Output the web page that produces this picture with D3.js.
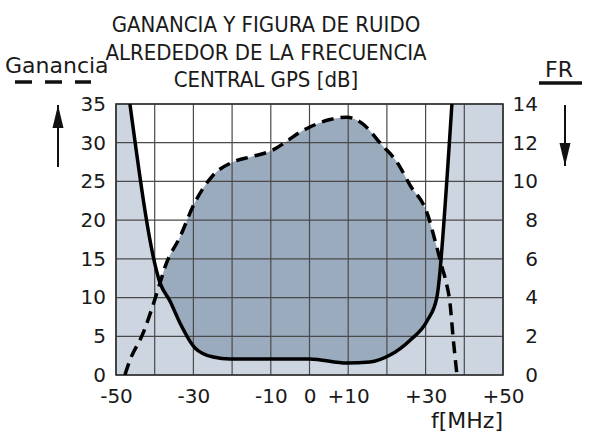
<!DOCTYPE html>
<html>
<head>
<meta charset="UTF-8">
<title>Ganancia y figura de ruido</title>
<script src="https://d3js.org/d3.v7.min.js"></script>
<style>
  body { margin: 0; background: #fff; }
  text { font-family: "DejaVu Sans", sans-serif; fill: #1a1a1a; }
  .title { font-family: "DejaVu Sans Condensed", "DejaVu Sans", sans-serif; }
</style>
</head>
<body>
<script>
var w = 600, h = 439;
var margin = {top: 104, right: 97, bottom: 64, left: 116};

// ganancia (dB, eje izquierdo)
var gainFreq = [-47.7, -46.4, -43, -40, -38, -37.3, -33.5, -29.6, -24.9, -19.8, -15, -9.7, -5, -3, 0, 5.3, 9.7, 13.6, 18.7, 22.6, 26, 30.4, 32.9, 34.2, 35.3, 36.3, 37.1, 38.1];
var gainVals = [0, 1.9, 5.4, 9.7, 12.9, 14, 17.8, 22.3, 25.8, 27.5, 28.2, 29, 30.5, 31.2, 32, 33, 33.3, 32.5, 29.7, 27.5, 24.5, 20.9, 16.5, 14, 12, 9.3, 4.9, 0];

// figura de ruido (dB, eje derecho)
var nfFreq = [-46.4, -38.6, -36, -33.5, -29.6, -24.9, -20.5, -9.7, 0, 9.7, 15.6, 20.8, 26, 30.4, 32.9, 33.7, 34.2, 36.8];
var nfVals = [14, 4.75, 3.8, 2.7, 1.4, 0.93, 0.83, 0.83, 0.83, 0.62, 0.67, 1.03, 1.8, 2.8, 4.0, 5.3, 6.5, 14];

var xTicks = [-50, -30, -10, 0, 10, 30, 50];
var xGrid = d3.range(-50, 51, 10);
var gainTicks = d3.range(0, 36, 5);
var nfTicks = d3.range(0, 15, 2);
var titleLines = ["GANANCIA Y FIGURA DE RUIDO", "ALREDEDOR DE LA FRECUENCIA", "CENTRAL GPS [dB]"];

var x = d3.scaleLinear().domain([-50, 50]).range([margin.left, w - margin.right]);
var yL = d3.scaleLinear().domain([0, 35]).range([h - margin.bottom, margin.top]);
var yR = d3.scaleLinear().domain([0, 14]).range([h - margin.bottom, margin.top]);

var svg = d3.select("body").append("svg").attr("width", w).attr("height", h);

var gain = gainFreq.map(function(f, i){ return [f, gainVals[i]]; });
var nf = nfFreq.map(function(f, i){ return [f, nfVals[i]]; });

var pw = x(50) - x(-50), ph = yL(0) - yL(35);

var defs = svg.append("defs");
defs.append("clipPath").attr("id", "plot")
    .append("rect").attr("x", x(-50)).attr("y", yL(35)).attr("width", pw).attr("height", ph);

// zona sobre la curva de ruido
var aboveNf = d3.area()
    .x(function(d){ return x(d[0]); })
    .y0(yR(14))
    .y1(function(d){ return yR(d[1]); })
    .curve(d3.curveMonotoneX);
defs.append("clipPath").attr("id", "abovenf")
    .append("path").attr("d", aboveNf(nf));

svg.append("rect")
    .attr("x", x(-50)).attr("y", yL(35)).attr("width", pw).attr("height", ph)
    .attr("fill", "#cdd6e0");

var inner = svg.append("g").attr("clip-path", "url(#abovenf)");
inner.append("rect")
    .attr("x", x(-50)).attr("y", yL(35)).attr("width", pw).attr("height", ph)
    .attr("fill", "#fff");
inner.append("path")
    .attr("d", d3.area()
        .x(function(d){ return x(d[0]); })
        .y0(yL(0))
        .y1(function(d){ return yL(d[1]); })
        .curve(d3.curveMonotoneX)(gain))
    .attr("fill", "#99abbd");

// rejilla
svg.append("g").selectAll("line").data(xGrid).enter().append("line")
    .attr("x1", function(d){ return x(d); }).attr("x2", function(d){ return x(d); })
    .attr("y1", yL(0)).attr("y2", yL(35))
    .attr("stroke", "#4a4a4a").attr("stroke-width", 1.2);
svg.append("g").selectAll("line").data(gainTicks).enter().append("line")
    .attr("y1", function(d){ return yL(d); }).attr("y2", function(d){ return yL(d); })
    .attr("x1", x(-50)).attr("x2", x(50))
    .attr("stroke", "#4a4a4a").attr("stroke-width", 1.2);
svg.append("rect")
    .attr("x", x(-50)).attr("y", yL(35)).attr("width", pw).attr("height", ph)
    .attr("fill", "none").attr("stroke", "#333").attr("stroke-width", 1.6);

var curves = svg.append("g").attr("clip-path", "url(#plot)");
curves.append("path")
    .attr("d", d3.line().x(function(d){ return x(d[0]); }).y(function(d){ return yL(d[1]); }).curve(d3.curveMonotoneX)(gain))
    .attr("fill", "none").attr("stroke", "#000").attr("stroke-width", 3.5)
    .attr("stroke-dasharray", "12,7");
curves.append("path")
    .attr("d", d3.line().x(function(d){ return x(d[0]); }).y(function(d){ return yR(d[1]); }).curve(d3.curveMonotoneX)(nf))
    .attr("fill", "none").attr("stroke", "#000").attr("stroke-width", 3.5);

// ejes
var xAxis = svg.append("g").attr("transform", "translate(0," + (h - margin.bottom) + ")")
    .call(d3.axisBottom(x).tickValues(xTicks).tickSize(0).tickPadding(14)
        .tickFormat(function(d){ return d > 0 ? "+" + d : (d < 0 ? "-" + (-d) : "0"); }));
var lAxis = svg.append("g").attr("transform", "translate(" + margin.left + ",0)")
    .call(d3.axisLeft(yL).tickValues(gainTicks).tickSize(0).tickPadding(10));
var rAxis = svg.append("g").attr("transform", "translate(" + (w - margin.right) + ",0)")
    .call(d3.axisRight(yR).tickValues(nfTicks).tickSize(0).tickPadding(10)
        .tickFormat(d3.format("d")));
rAxis.selectAll("text").attr("text-anchor", "end").attr("dx", "25px");
[xAxis, lAxis, rAxis].forEach(function(a){
    a.select(".domain").remove();
    a.selectAll("text").style("font-size", "20px").attr("fill", "#1a1a1a")
        .style("font-family", "'DejaVu Sans', sans-serif");
});

svg.append("text").attr("x", w - margin.right).attr("y", 428).attr("text-anchor", "end")
    .style("font-size", "22px").text("f[MHz]");

// titulo
svg.selectAll(".title").data(titleLines).enter().append("text")
    .attr("class", "title")
    .attr("x", 266).attr("y", function(d, i){ return 32 + i * 27.5; })
    .attr("text-anchor", "middle").style("font-size", "22px")
    .text(function(d){ return d; });

// leyendas de ejes
svg.append("text").attr("x", 5).attr("y", 73).style("font-size", "22px").text("Ganancia");
svg.append("line").attr("x1", 15).attr("x2", 91).attr("y1", 82).attr("y2", 82)
    .attr("stroke", "#111").attr("stroke-width", 3.5).attr("stroke-dasharray", "17,13");
svg.append("text").attr("x", 545).attr("y", 77).style("font-size", "22px").text("FR");
svg.append("line").attr("x1", 539).attr("x2", 582).attr("y1", 83).attr("y2", 83)
    .attr("stroke", "#111").attr("stroke-width", 3.5);

defs.append("marker").attr("id", "head")
    .attr("viewBox", "0 0 23 23").attr("refX", 23).attr("refY", 11.5)
    .attr("markerWidth", 23).attr("markerHeight", 23).attr("markerUnits", "userSpaceOnUse")
    .attr("orient", "auto")
    .append("path").attr("d", "M0,6L23,11.5L0,17Z").attr("fill", "#111");
// flechas: hacia arriba ganancia, hacia abajo FR
svg.append("line").attr("x1", 58).attr("x2", 58).attr("y1", 167).attr("y2", 105)
    .attr("stroke", "#111").attr("stroke-width", 2).attr("marker-end", "url(#head)");
svg.append("line").attr("x1", 565).attr("x2", 565).attr("y1", 105).attr("y2", 166)
    .attr("stroke", "#111").attr("stroke-width", 2).attr("marker-end", "url(#head)");
</script>
</body>
</html>
